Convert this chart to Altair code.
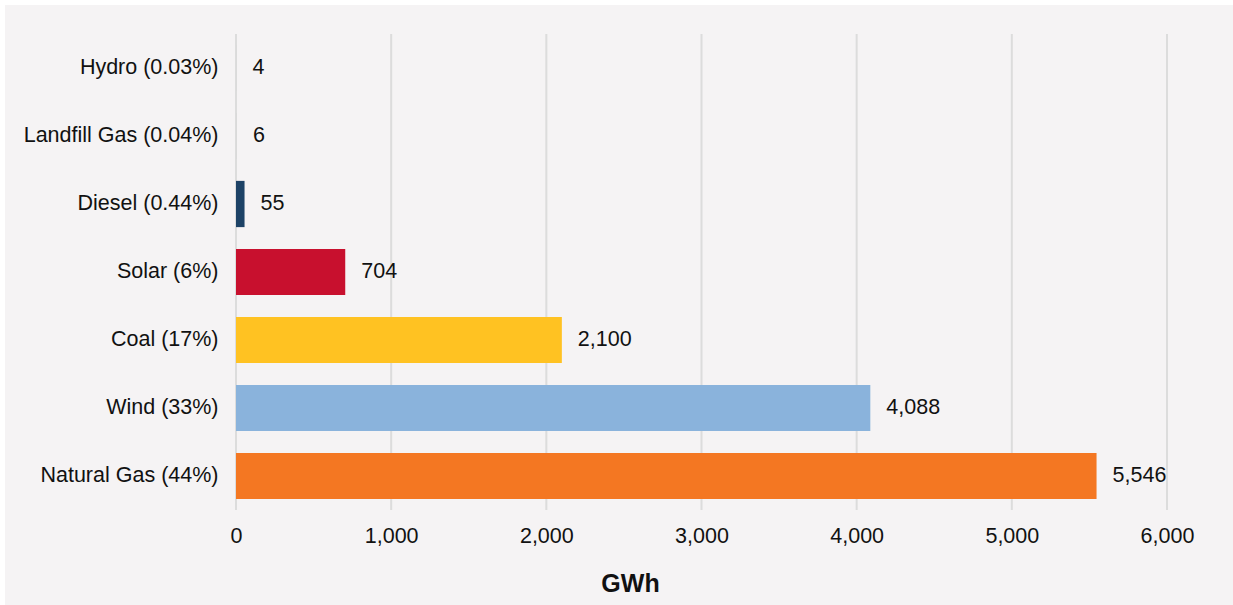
import altair as alt
import pandas as pd

# Electricity generation by source (GWh), share of total in the label
sources = [
    "Hydro (0.03%)",
    "Landfill Gas (0.04%)",
    "Diesel (0.44%)",
    "Solar (6%)",
    "Coal (17%)",
    "Wind (33%)",
    "Natural Gas (44%)",
]
gwh = [4, 6, 55, 704, 2100, 4088, 5546]
bar_colors = ["#d9d9d9", "#d9d9d9", "#1d4266", "#c8102e", "#ffc222", "#8ab3dc", "#f47722"]
x_ticks = [0, 1000, 2000, 3000, 4000, 5000, 6000]

W, H = 931, 476
PAD_L, PAD_T, PAD_R, PAD_B = 236, 34, 66, 95
FONT = "Liberation Sans"
FS = 21.5

df = pd.DataFrame({"source": sources, "gwh": gwh, "color": bar_colors})
ticks_df = pd.DataFrame({"t": x_ticks})

xscale = alt.Scale(domain=[0, 6000], nice=False, zero=True)
x_axis = alt.Axis(
    values=x_ticks,
    format=",.0f",
    grid=False,
    domain=False,
    ticks=False,
    zindex=1,
    labelFlush=False,
    labelPadding=15,
    labelFontSize=FS,
    labelFont=FONT,
    labelColor="#111111",
    title="GWh",
    titleFont=FONT,
    titleFontSize=25,
    titleFontWeight="bold",
    titleColor="#111111",
    titleX=394,
    titleY=81,
    titleAlign="center",
    titleBaseline="alphabetic",
)

# thin white frame on the left and top edges of the tinted canvas
one = pd.DataFrame({"a": [0]})
frame_left = alt.Chart(one).mark_rect(color="white").encode(
    x=alt.value(-PAD_L - 2), x2=alt.value(-PAD_L + 5),
    y=alt.value(-PAD_T - 2), y2=alt.value(H + PAD_B + 2),
)
frame_top = alt.Chart(one).mark_rect(color="white").encode(
    x=alt.value(-PAD_L - 2), x2=alt.value(W + PAD_R + 2),
    y=alt.value(-PAD_T - 2), y2=alt.value(-PAD_T + 5),
)

# vertical gridlines at the tick values
grid = alt.Chart(ticks_df).mark_rule(color="#dcdcdc", strokeWidth=2).encode(
    x=alt.X("t:Q", scale=xscale, axis=x_axis),
    y=alt.value(0),
    y2=alt.value(H),
)

bars = alt.Chart(df).mark_bar().encode(
    y=alt.Y(
        "source:N",
        sort=sources,
        scale=alt.Scale(paddingInner=0.32, paddingOuter=0.16),
        axis=alt.Axis(
            title=None,
            domain=False,
            ticks=False,
            grid=False,
            zindex=1,
            labelPadding=18,
            labelFontSize=FS,
            labelFont=FONT,
            labelColor="#111111",
            labelLimit=400,
        ),
    ),
    x=alt.X("gwh:Q", scale=xscale, axis=x_axis),
    color=alt.Color("color:N", scale=None),
)

labels = bars.mark_text(
    align="left", baseline="middle", dx=16, fontSize=FS, font=FONT
).encode(text=alt.Text("gwh:Q", format=","), color=alt.value("#111111"))

chart = (
    alt.layer(frame_left, frame_top, grid, bars, labels)
    .properties(
        width=W,
        height=H,
        autosize=alt.AutoSizeParams(type="none"),
        padding={"left": PAD_L, "top": PAD_T, "right": PAD_R, "bottom": PAD_B},
        background="#f5f3f4",
    )
    .configure_view(stroke=None)
)

chart.save("out.html", embed_options={"renderer": "svg", "actions": False})
